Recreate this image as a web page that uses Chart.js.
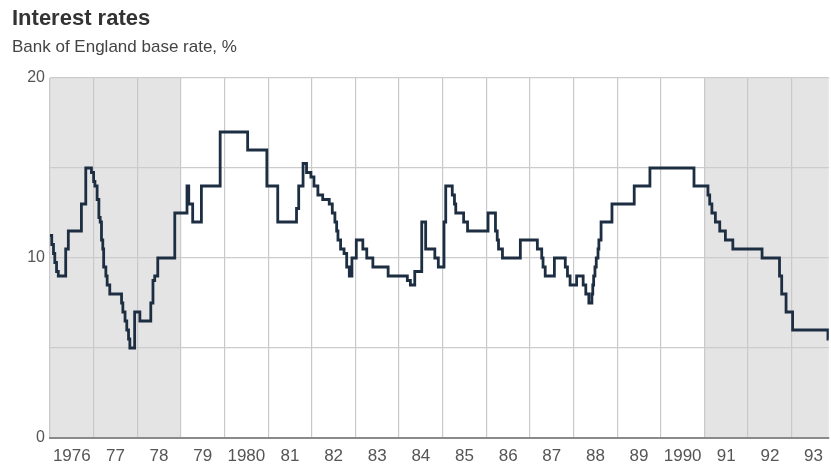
<!DOCTYPE html>
<html>
<head>
<meta charset="utf-8">
<script src="https://cdn.jsdelivr.net/npm/chart.js@4/dist/chart.umd.min.js"></script>
<style>
  html, body { margin: 0; padding: 0; background: #ffffff; }
  #wrap { position: relative; width: 831px; height: 465px; overflow: hidden; }
  #title { position: absolute; left: 12px; top: 7px; font: bold 22px/1 "Liberation Sans", Arial, sans-serif; color: #333; white-space: nowrap; }
  #subtitle { position: absolute; left: 12px; top: 38px; font: 17px/1 "Liberation Sans", Arial, sans-serif; color: #444; white-space: nowrap; }
  #box { position: absolute; left: 0; top: 0; width: 831px; height: 465px; }
</style>
</head>
<body>
<div id="wrap">
  <div id="box"><canvas id="c"></canvas></div>
  <div id="title">Interest rates</div>
  <div id="subtitle">Bank of England base rate, %</div>
</div>
<script>
// Dates (decimal years) at which the base rate changed, and the new rate (%)
const changeDates = [
  1976.00, 1976.04, 1976.08, 1976.11, 1976.15, 1976.19, 1976.36, 1976.42, 1976.72, 1976.82,
  1976.95, 1977.00, 1977.03, 1977.08, 1977.12, 1977.15, 1977.18, 1977.21, 1977.23, 1977.28,
  1977.31, 1977.37, 1977.64, 1977.67, 1977.72, 1977.76, 1977.80, 1977.83, 1977.94, 1978.06,
  1978.31, 1978.36, 1978.40, 1978.47, 1978.86, 1979.14, 1979.18, 1979.27, 1979.47, 1979.90,
  1980.53, 1980.97, 1981.22, 1981.65, 1981.70, 1981.80, 1981.88, 1981.98, 1982.05, 1982.14,
  1982.25, 1982.40, 1982.47, 1982.53, 1982.57, 1982.60, 1982.66, 1982.74, 1982.80, 1982.86,
  1982.92, 1983.02, 1983.17, 1983.26, 1983.40, 1983.75, 1984.19, 1984.26, 1984.36, 1984.52,
  1984.61, 1984.82, 1984.90, 1985.03, 1985.07, 1985.22, 1985.27, 1985.30, 1985.48, 1985.57,
  1986.04, 1986.21, 1986.25, 1986.28, 1986.37, 1986.78, 1987.17, 1987.27, 1987.30, 1987.35,
  1987.56, 1987.81, 1987.86, 1987.92, 1988.07, 1988.22, 1988.28, 1988.35, 1988.42, 1988.44,
  1988.46, 1988.49, 1988.52, 1988.56, 1988.58, 1988.63, 1988.88, 1989.39, 1989.75, 1990.76,
  1991.08, 1991.12, 1991.17, 1991.25, 1991.35, 1991.48, 1991.65, 1992.32, 1992.72, 1992.77,
  1992.87, 1993.02, 1993.83, 1993.85
];
const rates = [
  11.25, 10.75, 10.25, 9.75, 9.25, 9.0, 10.5, 11.5, 13.0, 15.0,
  14.75, 14.25, 14.0, 13.25, 12.25, 12.0, 11.0, 10.5, 9.5, 9.0,
  8.5, 8.0, 7.5, 7.0, 6.5, 6.0, 5.5, 5.0, 7.0, 6.5,
  7.5, 8.75, 9.0, 10.0, 12.5, 14.0, 13.0, 12.0, 14.0, 17.0,
  16.0, 14.0, 12.0, 12.75, 14.0, 15.25, 14.75, 14.5, 14.0, 13.5,
  13.25, 13.0, 12.5, 12.0, 11.5, 11.0, 10.5, 10.25, 9.5, 9.0,
  10.0, 11.0, 10.5, 10.0, 9.5, 9.0, 8.75, 8.5, 9.25, 12.0,
  10.5, 10.0, 9.5, 12.0, 14.0, 13.5, 13.0, 12.5, 12.0, 11.5,
  12.5, 11.5, 11.0, 10.5, 10.0, 11.0, 10.5, 10.0, 9.5, 9.0,
  10.0, 9.5, 9.0, 8.5, 9.0, 8.5, 8.0, 7.5, 8.0, 8.5,
  9.0, 9.5, 10.0, 10.5, 11.0, 12.0, 13.0, 14.0, 15.0, 14.0,
  13.5, 13.0, 12.5, 12.0, 11.5, 11.0, 10.5, 10.0, 9.0, 8.0,
  7.0, 6.0, 5.5, 5.5
];
// Year labels shown under each year band
const firstYear = 1976;
const tickLabels = ['1976','77','78','79','1980','81','82','83','84','85','86','87','88','89','1990','91','92','93'];
const yLabels = [0, 10, 20];
// Shaded periods [start, end]
const shadedStarts = [1976, 1991];
const shadedEnds = [1979, 1994];
const xMax = 1993.85;

const points = changeDates.map((d, i) => ({ x: d, y: rates[i] }));
const FONT = '"Liberation Sans", Arial, sans-serif';

const shadePlugin = {
  id: 'shade',
  beforeDraw(chart) {
    const { ctx, chartArea, scales } = chart;
    ctx.save();
    ctx.fillStyle = '#e4e4e4';
    for (let i = 0; i < shadedStarts.length; i++) {
      const x0 = Math.max(chartArea.left, scales.x.getPixelForValue(shadedStarts[i]));
      const x1 = Math.min(chartArea.right, scales.x.getPixelForValue(shadedEnds[i]));
      ctx.fillRect(x0, chartArea.top, x1 - x0, chartArea.bottom - chartArea.top);
    }
    ctx.restore();
  }
};

new Chart(document.getElementById('c'), {
  type: 'line',
  data: {
    datasets: [{
      data: points,
      stepped: true,
      borderColor: '#1d2e42',
      borderWidth: 2.8,
      pointRadius: 0,
      fill: false,
      tension: 0
    }]
  },
  options: {
    responsive: true,
    maintainAspectRatio: false,
    animation: false,
    layout: { padding: { top: 78, left: 0, right: 0, bottom: 0 } },
    plugins: { legend: { display: false }, tooltip: { enabled: false } },
    scales: {
      x: {
        type: 'linear',
        min: firstYear,
        max: xMax,
        afterBuildTicks(axis) {
          const t = [];
          for (let i = 0; i < tickLabels.length; i++) {
            t.push({ value: firstYear + i });
            t.push({ value: firstYear + i + 0.5 });
          }
          axis.ticks = t.filter(o => o.value <= xMax);
        },
        afterFit(scale) { scale.height = 27; },
        grid: {
          drawTicks: false,
          color: (c) => (c.tick && Number.isInteger(c.tick.value)) ? '#c9c9c9' : 'rgba(0,0,0,0)',
          lineWidth: 1.2
        },
        border: { display: true, color: '#8a8a8a', width: 2 },
        ticks: {
          autoSkip: false,
          maxRotation: 0,
          padding: 8,
          color: '#555',
          font: { family: FONT, size: 17 },
          callback: (v) => Number.isInteger(v) ? '' : tickLabels[Math.floor(v) - firstYear]
        }
      },
      y: {
        min: 0,
        max: 20,
        afterFit(scale) { scale.width = 50; },
        grid: { drawTicks: false, color: '#cccccc', lineWidth: 1.2 },
        border: { display: false },
        ticks: {
          stepSize: 5,
          padding: 5,
          color: '#555',
          font: { family: FONT, size: 16 },
          callback: (v) => yLabels.includes(v) ? String(v) : ''
        }
      }
    }
  },
  plugins: [shadePlugin]
});
</script>
</body>
</html>
